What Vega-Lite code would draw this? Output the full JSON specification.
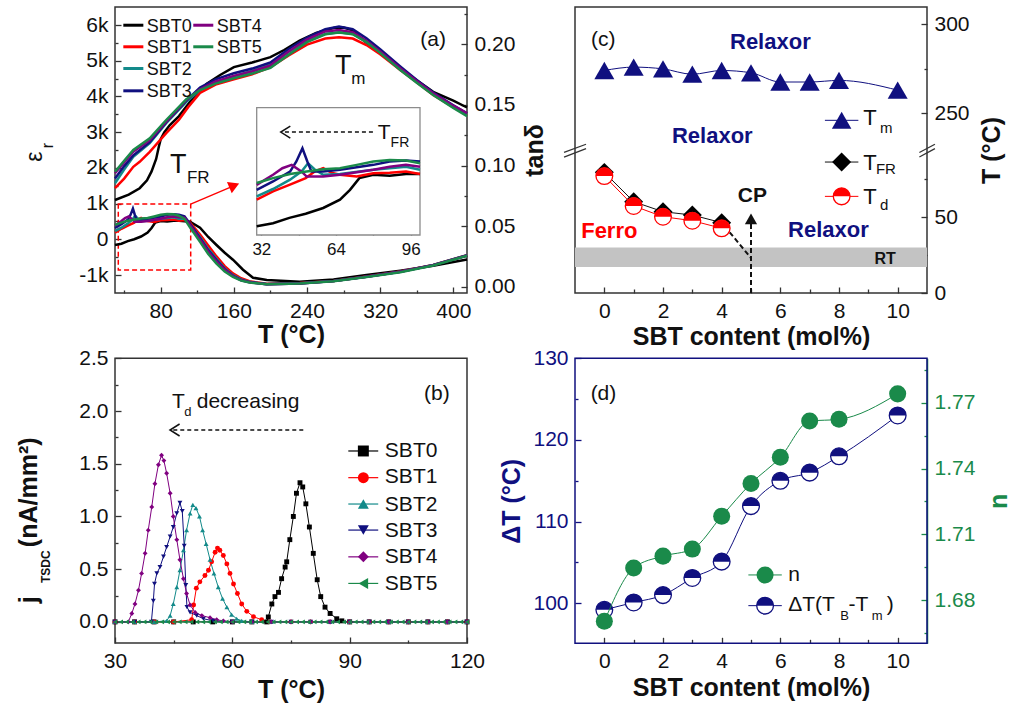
{
"$schema":"https://vega.github.io/schema/vega-lite/v6.json",
"width":1015,"height":714,"autosize":"none","padding":0,"background":"white",
"config":{"font":"Liberation Sans","view":{"stroke":null},
"axis":{"domain":false,"grid":false,"tickSize":-6,"tickWidth":1.3,"tickColor":"#333333","labelFont":"Liberation Sans","labelFontSize":21,"labelColor":"#111111","labelPadding":13,"labelFlush":false,"labelOverlap":false,"labelBound":false,"titleFont":"Liberation Sans","titleFontSize":25,"titleFontWeight":"bold","titleColor":"#111111"}},
"resolve":{"scale":{"x":"independent","y":"independent"}},
"datasets":{
"epsA":[
{"s":"SBT0","x":30,"y":1100},{"s":"SBT0","x":45,"y":1250},{"s":"SBT0","x":57,"y":1430},{"s":"SBT0","x":65,"y":1650},{"s":"SBT0","x":70,"y":1900},{"s":"SBT0","x":75,"y":2250},{"s":"SBT0","x":78,"y":2600},{"s":"SBT0","x":80,"y":2800},{"s":"SBT0","x":84,"y":3000},{"s":"SBT0","x":90,"y":3200},{"s":"SBT0","x":100,"y":3450},{"s":"SBT0","x":115,"y":3950},{"s":"SBT0","x":130,"y":4350},{"s":"SBT0","x":145,"y":4600},{"s":"SBT0","x":160,"y":4820},{"s":"SBT0","x":180,"y":4950},{"s":"SBT0","x":200,"y":5100},{"s":"SBT0","x":215,"y":5300},{"s":"SBT0","x":232,"y":5560},{"s":"SBT0","x":250,"y":5780},{"s":"SBT0","x":270,"y":5920},{"s":"SBT0","x":280,"y":5930},{"s":"SBT0","x":290,"y":5850},{"s":"SBT0","x":305,"y":5500},{"s":"SBT0","x":320,"y":5220},{"s":"SBT0","x":342,"y":4790},{"s":"SBT0","x":360,"y":4450},{"s":"SBT0","x":378,"y":4130},{"s":"SBT0","x":400,"y":3880},{"s":"SBT0","x":415,"y":3690},
{"s":"SBT1","x":30,"y":1430},{"s":"SBT1","x":40,"y":1700},{"s":"SBT1","x":50,"y":2030},{"s":"SBT1","x":57,"y":2170},{"s":"SBT1","x":68,"y":2450},{"s":"SBT1","x":86,"y":2970},{"s":"SBT1","x":100,"y":3350},{"s":"SBT1","x":110,"y":3700},{"s":"SBT1","x":123,"y":4100},{"s":"SBT1","x":140,"y":4330},{"s":"SBT1","x":160,"y":4480},{"s":"SBT1","x":180,"y":4620},{"s":"SBT1","x":200,"y":4820},{"s":"SBT1","x":220,"y":5150},{"s":"SBT1","x":240,"y":5450},{"s":"SBT1","x":260,"y":5620},{"s":"SBT1","x":275,"y":5660},{"s":"SBT1","x":290,"y":5620},{"s":"SBT1","x":305,"y":5440},{"s":"SBT1","x":320,"y":5180},{"s":"SBT1","x":342,"y":4740},{"s":"SBT1","x":360,"y":4400},{"s":"SBT1","x":378,"y":4040},{"s":"SBT1","x":400,"y":3700},{"s":"SBT1","x":415,"y":3480},
{"s":"SBT2","x":30,"y":1570},{"s":"SBT2","x":40,"y":1950},{"s":"SBT2","x":50,"y":2310},{"s":"SBT2","x":68,"y":2690},{"s":"SBT2","x":86,"y":3250},{"s":"SBT2","x":108,"y":3850},{"s":"SBT2","x":123,"y":4180},{"s":"SBT2","x":140,"y":4400},{"s":"SBT2","x":160,"y":4570},{"s":"SBT2","x":180,"y":4720},{"s":"SBT2","x":200,"y":4900},{"s":"SBT2","x":220,"y":5250},{"s":"SBT2","x":240,"y":5550},{"s":"SBT2","x":260,"y":5750},{"s":"SBT2","x":275,"y":5800},{"s":"SBT2","x":290,"y":5750},{"s":"SBT2","x":305,"y":5530},{"s":"SBT2","x":320,"y":5250},{"s":"SBT2","x":342,"y":4790},{"s":"SBT2","x":360,"y":4430},{"s":"SBT2","x":378,"y":4090},{"s":"SBT2","x":400,"y":3730},{"s":"SBT2","x":415,"y":3500},
{"s":"SBT3","x":30,"y":1700},{"s":"SBT3","x":40,"y":2050},{"s":"SBT3","x":50,"y":2350},{"s":"SBT3","x":68,"y":2720},{"s":"SBT3","x":86,"y":3280},{"s":"SBT3","x":108,"y":3880},{"s":"SBT3","x":123,"y":4250},{"s":"SBT3","x":140,"y":4480},{"s":"SBT3","x":160,"y":4650},{"s":"SBT3","x":180,"y":4780},{"s":"SBT3","x":200,"y":4950},{"s":"SBT3","x":220,"y":5330},{"s":"SBT3","x":240,"y":5650},{"s":"SBT3","x":260,"y":5880},{"s":"SBT3","x":275,"y":5960},{"s":"SBT3","x":290,"y":5880},{"s":"SBT3","x":305,"y":5630},{"s":"SBT3","x":320,"y":5320},{"s":"SBT3","x":342,"y":4840},{"s":"SBT3","x":360,"y":4460},{"s":"SBT3","x":378,"y":4110},{"s":"SBT3","x":400,"y":3750},{"s":"SBT3","x":415,"y":3530},
{"s":"SBT4","x":30,"y":1850},{"s":"SBT4","x":40,"y":2150},{"s":"SBT4","x":50,"y":2450},{"s":"SBT4","x":68,"y":2780},{"s":"SBT4","x":86,"y":3290},{"s":"SBT4","x":108,"y":3900},{"s":"SBT4","x":123,"y":4200},{"s":"SBT4","x":140,"y":4420},{"s":"SBT4","x":160,"y":4570},{"s":"SBT4","x":180,"y":4700},{"s":"SBT4","x":200,"y":4870},{"s":"SBT4","x":220,"y":5260},{"s":"SBT4","x":240,"y":5600},{"s":"SBT4","x":260,"y":5820},{"s":"SBT4","x":275,"y":5860},{"s":"SBT4","x":290,"y":5800},{"s":"SBT4","x":305,"y":5560},{"s":"SBT4","x":320,"y":5260},{"s":"SBT4","x":342,"y":4790},{"s":"SBT4","x":360,"y":4430},{"s":"SBT4","x":378,"y":4090},{"s":"SBT4","x":400,"y":3740},{"s":"SBT4","x":415,"y":3530},
{"s":"SBT5","x":30,"y":1890},{"s":"SBT5","x":40,"y":2200},{"s":"SBT5","x":50,"y":2500},{"s":"SBT5","x":68,"y":2830},{"s":"SBT5","x":86,"y":3340},{"s":"SBT5","x":108,"y":3920},{"s":"SBT5","x":123,"y":4180},{"s":"SBT5","x":140,"y":4360},{"s":"SBT5","x":160,"y":4510},{"s":"SBT5","x":180,"y":4640},{"s":"SBT5","x":200,"y":4800},{"s":"SBT5","x":220,"y":5170},{"s":"SBT5","x":240,"y":5520},{"s":"SBT5","x":260,"y":5740},{"s":"SBT5","x":275,"y":5790},{"s":"SBT5","x":290,"y":5740},{"s":"SBT5","x":305,"y":5520},{"s":"SBT5","x":320,"y":5220},{"s":"SBT5","x":342,"y":4740},{"s":"SBT5","x":360,"y":4380},{"s":"SBT5","x":378,"y":4040},{"s":"SBT5","x":400,"y":3680},{"s":"SBT5","x":415,"y":3450}
],
"tanA":[
{"s":"SBT0","x":30,"y":0.0344},{"s":"SBT0","x":37,"y":0.0355},{"s":"SBT0","x":44,"y":0.0376},{"s":"SBT0","x":51,"y":0.0392},{"s":"SBT0","x":58.5,"y":0.0414},{"s":"SBT0","x":65.7,"y":0.0446},{"s":"SBT0","x":70,"y":0.0484},{"s":"SBT0","x":74,"y":0.0529},{"s":"SBT0","x":80,"y":0.0542},{"s":"SBT0","x":87,"y":0.0538},{"s":"SBT0","x":94,"y":0.0545},{"s":"SBT0","x":100,"y":0.0545},{"s":"SBT0","x":112,"y":0.0536},{"s":"SBT0","x":123,"y":0.0487},{"s":"SBT0","x":132,"y":0.041},{"s":"SBT0","x":141,"y":0.0344},{"s":"SBT0","x":150,"y":0.028},{"s":"SBT0","x":159,"y":0.0223},{"s":"SBT0","x":170,"y":0.014},{"s":"SBT0","x":181,"y":0.0074},{"s":"SBT0","x":196,"y":0.0055},{"s":"SBT0","x":232,"y":0.0041},{"s":"SBT0","x":269,"y":0.006},{"s":"SBT0","x":305,"y":0.0096},{"s":"SBT0","x":342,"y":0.0132},{"s":"SBT0","x":378,"y":0.0173},{"s":"SBT0","x":415,"y":0.0225},
{"s":"SBT1","x":30,"y":0.0446},{"s":"SBT1","x":37,"y":0.0478},{"s":"SBT1","x":44,"y":0.0503},{"s":"SBT1","x":51,"y":0.0529},{"s":"SBT1","x":55,"y":0.0555},{"s":"SBT1","x":58.5,"y":0.0567},{"s":"SBT1","x":62,"y":0.055},{"s":"SBT1","x":65.7,"y":0.0542},{"s":"SBT1","x":72.9,"y":0.0535},{"s":"SBT1","x":80,"y":0.0548},{"s":"SBT1","x":87,"y":0.055},{"s":"SBT1","x":94,"y":0.0554},{"s":"SBT1","x":100,"y":0.0545},{"s":"SBT1","x":106,"y":0.055},{"s":"SBT1","x":112,"y":0.053},{"s":"SBT1","x":123,"y":0.043},{"s":"SBT1","x":132,"y":0.034},{"s":"SBT1","x":141,"y":0.025},{"s":"SBT1","x":150,"y":0.017},{"s":"SBT1","x":159,"y":0.011},{"s":"SBT1","x":168,"y":0.007},{"s":"SBT1","x":177,"y":0.0045},{"s":"SBT1","x":196,"y":0.0024},{"s":"SBT1","x":232,"y":0.003},{"s":"SBT1","x":269,"y":0.0048},{"s":"SBT1","x":305,"y":0.0084},{"s":"SBT1","x":342,"y":0.0125},{"s":"SBT1","x":378,"y":0.018},{"s":"SBT1","x":415,"y":0.026},
{"s":"SBT2","x":30,"y":0.0459},{"s":"SBT2","x":37,"y":0.0487},{"s":"SBT2","x":44.3,"y":0.0523},{"s":"SBT2","x":49.3,"y":0.0555},{"s":"SBT2","x":52,"y":0.0586},{"s":"SBT2","x":55,"y":0.0561},{"s":"SBT2","x":58.5,"y":0.0542},{"s":"SBT2","x":65.7,"y":0.0545},{"s":"SBT2","x":80,"y":0.0561},{"s":"SBT2","x":87,"y":0.0567},{"s":"SBT2","x":94,"y":0.0573},{"s":"SBT2","x":100,"y":0.0561},{"s":"SBT2","x":106,"y":0.056},{"s":"SBT2","x":112,"y":0.0515},{"s":"SBT2","x":123,"y":0.041},{"s":"SBT2","x":132,"y":0.031},{"s":"SBT2","x":141,"y":0.023},{"s":"SBT2","x":150,"y":0.015},{"s":"SBT2","x":159,"y":0.0095},{"s":"SBT2","x":168,"y":0.006},{"s":"SBT2","x":177,"y":0.004},{"s":"SBT2","x":196,"y":0.0022},{"s":"SBT2","x":232,"y":0.0028},{"s":"SBT2","x":269,"y":0.0047},{"s":"SBT2","x":305,"y":0.0083},{"s":"SBT2","x":342,"y":0.0124},{"s":"SBT2","x":378,"y":0.0179},{"s":"SBT2","x":415,"y":0.026},
{"s":"SBT3","x":30,"y":0.0484},{"s":"SBT3","x":37,"y":0.0516},{"s":"SBT3","x":44.3,"y":0.0554},{"s":"SBT3","x":47,"y":0.0593},{"s":"SBT3","x":49.6,"y":0.0644},{"s":"SBT3","x":51.7,"y":0.0593},{"s":"SBT3","x":53.5,"y":0.0554},{"s":"SBT3","x":58.5,"y":0.0554},{"s":"SBT3","x":65.7,"y":0.0561},{"s":"SBT3","x":80,"y":0.058},{"s":"SBT3","x":87,"y":0.0593},{"s":"SBT3","x":94,"y":0.0597},{"s":"SBT3","x":100,"y":0.0593},{"s":"SBT3","x":106,"y":0.058},{"s":"SBT3","x":112,"y":0.052},{"s":"SBT3","x":123,"y":0.04},{"s":"SBT3","x":132,"y":0.03},{"s":"SBT3","x":141,"y":0.022},{"s":"SBT3","x":150,"y":0.0145},{"s":"SBT3","x":159,"y":0.009},{"s":"SBT3","x":168,"y":0.0055},{"s":"SBT3","x":177,"y":0.0038},{"s":"SBT3","x":196,"y":0.0021},{"s":"SBT3","x":232,"y":0.0027},{"s":"SBT3","x":269,"y":0.0046},{"s":"SBT3","x":305,"y":0.0082},{"s":"SBT3","x":342,"y":0.0123},{"s":"SBT3","x":378,"y":0.0178},{"s":"SBT3","x":415,"y":0.0258},
{"s":"SBT4","x":30,"y":0.0503},{"s":"SBT4","x":37,"y":0.0542},{"s":"SBT4","x":41,"y":0.0567},{"s":"SBT4","x":45,"y":0.058},{"s":"SBT4","x":49.3,"y":0.0554},{"s":"SBT4","x":51.4,"y":0.0535},{"s":"SBT4","x":58.5,"y":0.0535},{"s":"SBT4","x":65.7,"y":0.0542},{"s":"SBT4","x":80,"y":0.0561},{"s":"SBT4","x":87,"y":0.0573},{"s":"SBT4","x":94,"y":0.058},{"s":"SBT4","x":100,"y":0.0573},{"s":"SBT4","x":106,"y":0.057},{"s":"SBT4","x":112,"y":0.051},{"s":"SBT4","x":123,"y":0.039},{"s":"SBT4","x":132,"y":0.029},{"s":"SBT4","x":141,"y":0.021},{"s":"SBT4","x":150,"y":0.014},{"s":"SBT4","x":159,"y":0.0088},{"s":"SBT4","x":168,"y":0.0053},{"s":"SBT4","x":177,"y":0.0037},{"s":"SBT4","x":196,"y":0.002},{"s":"SBT4","x":232,"y":0.0027},{"s":"SBT4","x":269,"y":0.0046},{"s":"SBT4","x":305,"y":0.0082},{"s":"SBT4","x":342,"y":0.0123},{"s":"SBT4","x":378,"y":0.0178},{"s":"SBT4","x":415,"y":0.0257},
{"s":"SBT5","x":30,"y":0.051},{"s":"SBT5","x":37,"y":0.0529},{"s":"SBT5","x":44.3,"y":0.0545},{"s":"SBT5","x":51.4,"y":0.0554},{"s":"SBT5","x":58.5,"y":0.0563},{"s":"SBT5","x":65.7,"y":0.0567},{"s":"SBT5","x":72.9,"y":0.058},{"s":"SBT5","x":80,"y":0.0593},{"s":"SBT5","x":87,"y":0.0599},{"s":"SBT5","x":94,"y":0.0597},{"s":"SBT5","x":100,"y":0.0586},{"s":"SBT5","x":106,"y":0.056},{"s":"SBT5","x":112,"y":0.049},{"s":"SBT5","x":123,"y":0.037},{"s":"SBT5","x":132,"y":0.027},{"s":"SBT5","x":141,"y":0.019},{"s":"SBT5","x":150,"y":0.0125},{"s":"SBT5","x":159,"y":0.008},{"s":"SBT5","x":168,"y":0.005},{"s":"SBT5","x":177,"y":0.0035},{"s":"SBT5","x":196,"y":0.002},{"s":"SBT5","x":232,"y":0.0026},{"s":"SBT5","x":269,"y":0.0045},{"s":"SBT5","x":305,"y":0.008},{"s":"SBT5","x":342,"y":0.012},{"s":"SBT5","x":378,"y":0.0175},{"s":"SBT5","x":415,"y":0.0255}
],
"annA":[
{"g":"box","x":33.6,"x2":112.8,"y":-860,"y2":987},
{"g":"arrow","x":112.8,"x2":160.4,"y":987,"y2":1505},
{"g":"head","x":160.4,"y":1505},
{"g":"lab","x":378,"y":5412,"t":"(a)"},
{"g":"big","x":279.7,"y":4628,"t":"T"},
{"g":"big","x":99.2,"y":1847,"t":"T"},
{"g":"sub","x":296.1,"y":4348,"t":"m"},
{"g":"sub","x":121.1,"y":1567,"t":"FR"},
{"g":"eps","x":-57.5,"y":2312,"t":"ε"},
{"g":"epsr","x":-43.0,"y":2626,"t":"r"}
],
"legA":[
{"s":"SBT0","g":"l","x":39.1,"x2":61.0,"y":5994},{"s":"SBT1","g":"l","x":39.1,"x2":61.0,"y":5390},{"s":"SBT2","g":"l","x":39.1,"x2":61.0,"y":4782},{"s":"SBT3","g":"l","x":39.1,"x2":61.0,"y":4157},{"s":"SBT4","g":"l","x":115.6,"x2":137.5,"y":5994},{"s":"SBT5","g":"l","x":115.6,"x2":137.5,"y":5390},
{"s":"SBT0","g":"t","x":64.7,"y":5812},{"s":"SBT1","g":"t","x":64.7,"y":5208},{"s":"SBT2","g":"t","x":64.7,"y":4600},{"s":"SBT3","g":"t","x":64.7,"y":3975},{"s":"SBT4","g":"t","x":141.2,"y":5812},{"s":"SBT5","g":"t","x":141.2,"y":5208}
],
"annI":[
{"g":"dash","x":42.1,"x2":80.7,"y":0.0706},
{"g":"chev","x":40.3,"y":0.0706},
{"g":"T","x":84.6,"y":0.0681,"t":"T"},
{"g":"sub","x":91.4,"y":0.0649,"t":"FR"}
],
"tsdc":[
{"s":"SBT0","x":30,"y":0},{"s":"SBT0","x":35,"y":0},{"s":"SBT0","x":40,"y":0},{"s":"SBT0","x":45,"y":0},{"s":"SBT0","x":50,"y":0},{"s":"SBT0","x":55,"y":0},{"s":"SBT0","x":60,"y":0},{"s":"SBT0","x":65,"y":0},{"s":"SBT0","x":68.8,"y":0},{"s":"SBT0","x":69.2,"y":0.047},{"s":"SBT0","x":70.1,"y":0.17},{"s":"SBT0","x":70.9,"y":0.24},{"s":"SBT0","x":71.8,"y":0.28},{"s":"SBT0","x":72.6,"y":0.41},{"s":"SBT0","x":73.5,"y":0.52},{"s":"SBT0","x":73.9,"y":0.57},{"s":"SBT0","x":74.7,"y":0.78},{"s":"SBT0","x":75.6,"y":1.0},{"s":"SBT0","x":76.4,"y":1.22},{"s":"SBT0","x":77.3,"y":1.32},{"s":"SBT0","x":78.0,"y":1.28},{"s":"SBT0","x":78.8,"y":1.12},{"s":"SBT0","x":79.7,"y":0.9},{"s":"SBT0","x":80.7,"y":0.65},{"s":"SBT0","x":81.7,"y":0.4},{"s":"SBT0","x":82.6,"y":0.24},{"s":"SBT0","x":83.7,"y":0.14},{"s":"SBT0","x":85.0,"y":0.08},{"s":"SBT0","x":86.7,"y":0.03},{"s":"SBT0","x":88,"y":0.01},{"s":"SBT0","x":90,"y":0},{"s":"SBT0","x":95,"y":0},{"s":"SBT0","x":100,"y":0},{"s":"SBT0","x":105,"y":0},{"s":"SBT0","x":110,"y":0},{"s":"SBT0","x":115,"y":0},{"s":"SBT0","x":120,"y":0},
{"s":"SBT1","x":30,"y":0},{"s":"SBT1","x":35,"y":0},{"s":"SBT1","x":40,"y":0},{"s":"SBT1","x":45,"y":0},{"s":"SBT1","x":49.6,"y":0.02},{"s":"SBT1","x":50.1,"y":0.16},{"s":"SBT1","x":50.8,"y":0.32},{"s":"SBT1","x":51.7,"y":0.38},{"s":"SBT1","x":53.0,"y":0.44},{"s":"SBT1","x":53.9,"y":0.49},{"s":"SBT1","x":54.7,"y":0.57},{"s":"SBT1","x":55.6,"y":0.66},{"s":"SBT1","x":56.2,"y":0.7},{"s":"SBT1","x":56.8,"y":0.68},{"s":"SBT1","x":57.7,"y":0.63},{"s":"SBT1","x":58.6,"y":0.55},{"s":"SBT1","x":59.4,"y":0.46},{"s":"SBT1","x":60.3,"y":0.36},{"s":"SBT1","x":61.3,"y":0.27},{"s":"SBT1","x":62.4,"y":0.17},{"s":"SBT1","x":63.7,"y":0.1},{"s":"SBT1","x":65.4,"y":0.05},{"s":"SBT1","x":67.5,"y":0.02},{"s":"SBT1","x":69.6,"y":0},{"s":"SBT1","x":75,"y":0},{"s":"SBT1","x":80,"y":0},{"s":"SBT1","x":85,"y":0},{"s":"SBT1","x":90,"y":0},{"s":"SBT1","x":95,"y":0},{"s":"SBT1","x":100,"y":0},{"s":"SBT1","x":105,"y":0},{"s":"SBT1","x":110,"y":0},{"s":"SBT1","x":115,"y":0},{"s":"SBT1","x":120,"y":0},
{"s":"SBT2","x":30,"y":0},{"s":"SBT2","x":35,"y":0},{"s":"SBT2","x":40,"y":0},{"s":"SBT2","x":43.2,"y":0.01},{"s":"SBT2","x":44.1,"y":0.06},{"s":"SBT2","x":44.9,"y":0.17},{"s":"SBT2","x":45.8,"y":0.33},{"s":"SBT2","x":46.6,"y":0.49},{"s":"SBT2","x":47.5,"y":0.68},{"s":"SBT2","x":48.3,"y":0.87},{"s":"SBT2","x":49.2,"y":1.03},{"s":"SBT2","x":49.9,"y":1.11},{"s":"SBT2","x":50.7,"y":1.08},{"s":"SBT2","x":51.6,"y":1.0},{"s":"SBT2","x":52.4,"y":0.87},{"s":"SBT2","x":53.3,"y":0.74},{"s":"SBT2","x":54.3,"y":0.59},{"s":"SBT2","x":55.3,"y":0.46},{"s":"SBT2","x":56.4,"y":0.33},{"s":"SBT2","x":57.5,"y":0.22},{"s":"SBT2","x":58.6,"y":0.14},{"s":"SBT2","x":59.8,"y":0.07},{"s":"SBT2","x":61.1,"y":0.03},{"s":"SBT2","x":62.4,"y":0.01},{"s":"SBT2","x":65,"y":0},{"s":"SBT2","x":70,"y":0},{"s":"SBT2","x":75,"y":0},{"s":"SBT2","x":80,"y":0},{"s":"SBT2","x":85,"y":0},{"s":"SBT2","x":90,"y":0},{"s":"SBT2","x":95,"y":0},{"s":"SBT2","x":100,"y":0},{"s":"SBT2","x":105,"y":0},{"s":"SBT2","x":110,"y":0},{"s":"SBT2","x":115,"y":0},{"s":"SBT2","x":120,"y":0},
{"s":"SBT3","x":30,"y":0},{"s":"SBT3","x":35,"y":0},{"s":"SBT3","x":39.3,"y":0},{"s":"SBT3","x":39.8,"y":0.2},{"s":"SBT3","x":40.1,"y":0.36},{"s":"SBT3","x":40.7,"y":0.46},{"s":"SBT3","x":41.5,"y":0.52},{"s":"SBT3","x":42.4,"y":0.62},{"s":"SBT3","x":43.2,"y":0.71},{"s":"SBT3","x":44.1,"y":0.81},{"s":"SBT3","x":44.9,"y":0.9},{"s":"SBT3","x":45.8,"y":1.03},{"s":"SBT3","x":46.6,"y":1.13},{"s":"SBT3","x":47.2,"y":1.05},{"s":"SBT3","x":47.7,"y":0.72},{"s":"SBT3","x":48.1,"y":0.35},{"s":"SBT3","x":48.4,"y":0.14},{"s":"SBT3","x":49.2,"y":0.09},{"s":"SBT3","x":50.9,"y":0.06},{"s":"SBT3","x":52.6,"y":0.03},{"s":"SBT3","x":55.1,"y":0.01},{"s":"SBT3","x":60,"y":0},{"s":"SBT3","x":65,"y":0},{"s":"SBT3","x":70,"y":0},{"s":"SBT3","x":75,"y":0},{"s":"SBT3","x":80,"y":0},{"s":"SBT3","x":85,"y":0},{"s":"SBT3","x":90,"y":0},{"s":"SBT3","x":95,"y":0},{"s":"SBT3","x":100,"y":0},{"s":"SBT3","x":105,"y":0},{"s":"SBT3","x":110,"y":0},{"s":"SBT3","x":115,"y":0},{"s":"SBT3","x":120,"y":0},
{"s":"SBT4","x":30,"y":0},{"s":"SBT4","x":33.4,"y":0},{"s":"SBT4","x":34.3,"y":0.08},{"s":"SBT4","x":35.1,"y":0.17},{"s":"SBT4","x":36.0,"y":0.3},{"s":"SBT4","x":36.8,"y":0.46},{"s":"SBT4","x":37.7,"y":0.65},{"s":"SBT4","x":38.5,"y":0.87},{"s":"SBT4","x":39.4,"y":1.09},{"s":"SBT4","x":40.2,"y":1.31},{"s":"SBT4","x":41.1,"y":1.49},{"s":"SBT4","x":41.9,"y":1.58},{"s":"SBT4","x":42.5,"y":1.53},{"s":"SBT4","x":43.2,"y":1.41},{"s":"SBT4","x":44.1,"y":1.22},{"s":"SBT4","x":44.9,"y":1.0},{"s":"SBT4","x":45.8,"y":0.78},{"s":"SBT4","x":46.6,"y":0.59},{"s":"SBT4","x":47.5,"y":0.41},{"s":"SBT4","x":48.3,"y":0.27},{"s":"SBT4","x":49.2,"y":0.16},{"s":"SBT4","x":50.5,"y":0.09},{"s":"SBT4","x":52.2,"y":0.06},{"s":"SBT4","x":54.3,"y":0.04},{"s":"SBT4","x":56,"y":0.02},{"s":"SBT4","x":57.7,"y":0.01},{"s":"SBT4","x":60,"y":0},{"s":"SBT4","x":65,"y":0},{"s":"SBT4","x":70,"y":0},{"s":"SBT4","x":75,"y":0},{"s":"SBT4","x":80,"y":0},{"s":"SBT4","x":85,"y":0},{"s":"SBT4","x":90,"y":0},{"s":"SBT4","x":95,"y":0},{"s":"SBT4","x":100,"y":0},{"s":"SBT4","x":105,"y":0},{"s":"SBT4","x":110,"y":0},{"s":"SBT4","x":115,"y":0},{"s":"SBT4","x":120,"y":0},
{"s":"SBT5","x":30,"y":0},{"s":"SBT5","x":31.5,"y":0},{"s":"SBT5","x":33,"y":0},{"s":"SBT5","x":34.5,"y":0},{"s":"SBT5","x":36,"y":0},{"s":"SBT5","x":37.5,"y":0},{"s":"SBT5","x":39,"y":0},{"s":"SBT5","x":40.5,"y":0},{"s":"SBT5","x":42,"y":0},{"s":"SBT5","x":43.5,"y":0},{"s":"SBT5","x":45,"y":0},{"s":"SBT5","x":46.5,"y":0},{"s":"SBT5","x":48,"y":0},{"s":"SBT5","x":49.5,"y":0},{"s":"SBT5","x":51,"y":0},{"s":"SBT5","x":52.5,"y":0},{"s":"SBT5","x":54,"y":0},{"s":"SBT5","x":55.5,"y":0},{"s":"SBT5","x":57,"y":0},{"s":"SBT5","x":58.5,"y":0},{"s":"SBT5","x":60,"y":0},{"s":"SBT5","x":61.5,"y":0},{"s":"SBT5","x":63,"y":0},{"s":"SBT5","x":64.5,"y":0},{"s":"SBT5","x":66,"y":0},{"s":"SBT5","x":67.5,"y":0},{"s":"SBT5","x":69,"y":0},{"s":"SBT5","x":70.5,"y":0},{"s":"SBT5","x":72,"y":0},{"s":"SBT5","x":73.5,"y":0},{"s":"SBT5","x":75,"y":0},{"s":"SBT5","x":76.5,"y":0},{"s":"SBT5","x":78,"y":0},{"s":"SBT5","x":79.5,"y":0},{"s":"SBT5","x":81,"y":0},{"s":"SBT5","x":82.5,"y":0},{"s":"SBT5","x":84,"y":0},{"s":"SBT5","x":85.5,"y":0},{"s":"SBT5","x":87,"y":0},{"s":"SBT5","x":88.5,"y":0},{"s":"SBT5","x":90,"y":0},{"s":"SBT5","x":91.5,"y":0},{"s":"SBT5","x":93,"y":0},{"s":"SBT5","x":94.5,"y":0},{"s":"SBT5","x":96,"y":0},{"s":"SBT5","x":97.5,"y":0},{"s":"SBT5","x":99,"y":0},{"s":"SBT5","x":100.5,"y":0},{"s":"SBT5","x":102,"y":0},{"s":"SBT5","x":103.5,"y":0},{"s":"SBT5","x":105,"y":0},{"s":"SBT5","x":106.5,"y":0},{"s":"SBT5","x":108,"y":0},{"s":"SBT5","x":109.5,"y":0},{"s":"SBT5","x":111,"y":0},{"s":"SBT5","x":112.5,"y":0},{"s":"SBT5","x":114,"y":0},{"s":"SBT5","x":115.5,"y":0},{"s":"SBT5","x":117,"y":0},{"s":"SBT5","x":118.5,"y":0},{"s":"SBT5","x":120,"y":0}
],
"annB":[
{"g":"lab","x":112.3,"y":2.105,"t":"(b)"},
{"g":"T","x":46.2,"y":2.027,"t":"T"},
{"g":"sub","x":48.6,"y":1.953,"t":"d"},
{"g":"dec","x":50.9,"y":2.027,"t":"decreasing"},
{"g":"dash","x":44.9,"x2":78.6,"y":1.82},
{"g":"chev","x":44.06,"y":1.82},
{"g":"jt","x":9.98,"y":0.178,"t":"j"},
{"g":"js","x":13.38,"y":0.368,"t":"TSDC"},
{"g":"jt","x":9.98,"y":0.709,"t":"(nA/mm²)"}
],
"legB":[
{"s":"SBT0","x":89.65,"x2":97.3,"xp":93.5,"xt":99.0,"y":1.621,"yt":1.561},
{"s":"SBT1","x":89.65,"x2":97.3,"xp":93.5,"xt":99.0,"y":1.368,"yt":1.314},
{"s":"SBT2","x":89.65,"x2":97.3,"xp":93.5,"xt":99.0,"y":1.118,"yt":1.054},
{"s":"SBT3","x":89.65,"x2":97.3,"xp":93.5,"xt":99.0,"y":0.871,"yt":0.807},
{"s":"SBT4","x":89.65,"x2":97.3,"xp":93.5,"xt":99.0,"y":0.617,"yt":0.555},
{"s":"SBT5","x":89.65,"x2":97.3,"xp":93.5,"xt":99.0,"y":0.365,"yt":0.301}
],
"phase":[
{"k":"Tm","x":0,"y":274.0},{"k":"Tm","x":1,"y":275.9},{"k":"Tm","x":2,"y":274.9},{"k":"Tm","x":3,"y":271.9},{"k":"Tm","x":4,"y":274.0},{"k":"Tm","x":5,"y":272.7},{"k":"Tm","x":6,"y":267.5},{"k":"Tm","x":7,"y":267.5},{"k":"Tm","x":8,"y":268.4},{"k":"Tm","x":10,"y":262.9},
{"k":"TFR","x":0,"y":79.4},{"k":"TFR","x":1,"y":60.1},{"k":"TFR","x":2,"y":53.5},{"k":"TFR","x":3,"y":51.3},{"k":"TFR","x":4,"y":46.3},
{"k":"Td","x":0,"y":77.0},{"k":"Td","x":1,"y":57.3},{"k":"Td","x":2,"y":50.2},{"k":"Td","x":3,"y":47.6},{"k":"Td","x":4,"y":42.6}
],
"annC":[
{"g":"band","x":-1,"x2":11,"y":17.1,"y2":29.9},
{"g":"rt","x":9.57,"y":19.3,"t":"RT"},
{"g":"dash","x":4.1,"y":44,"x2":5,"y2":23},
{"g":"dash","x":5,"y":0,"x2":5,"y2":46},
{"g":"head","x":5,"y":48.8},
{"g":"relax","x":5.66,"y":285.9,"t":"Relaxor"},
{"g":"relax","x":3.68,"y":233.3,"t":"Relaxor"},
{"g":"relax","x":7.64,"y":36.8,"t":"Relaxor"},
{"g":"ferro","x":0.17,"y":36.4,"t":"Ferro"},
{"g":"cp","x":5.05,"y":59.9,"t":"CP"},
{"g":"lab","x":-0.04,"y":287.8,"t":"(c)"},
{"g":"brk","x":-1.374,"x2":-0.624,"y":89.5,"y2":229.9},
{"g":"brk","x":-1.374,"x2":-0.624,"y":92.5,"y2":232.4},
{"g":"brk","x":10.74,"x2":11.27,"y":89.5,"y2":229.9},
{"g":"brk","x":10.74,"x2":11.27,"y":92.5,"y2":232.4},
{"g":"T","x":8.83,"y":243.2,"t":"T"},{"g":"T","x":8.83,"y":80.7,"t":"T"},{"g":"T","x":8.83,"y":58.8,"t":"T"},
{"g":"sub","x":9.40,"y":238.6,"t":"m"},{"g":"sub","x":9.26,"y":78.1,"t":"FR"},{"g":"sub","x":9.40,"y":54.4,"t":"d"}
],
"legC":[
{"k":"Tm","x":7.52,"x2":8.66,"xp":8.09,"y":245.9},
{"k":"TFR","x":7.52,"x2":8.66,"xp":8.09,"y":86.2},
{"k":"Td","x":7.52,"x2":8.66,"xp":8.09,"y":63.6}
],
"dn":[
{"x":0,"y":99.2,"n":1.6704},{"x":1,"y":100.1,"n":1.6947},{"x":2,"y":101.0,"n":1.7001},{"x":3,"y":103.1,"n":1.7033},{"x":4,"y":105.1,"n":1.7183},{"x":5,"y":111.9,"n":1.7332},{"x":6,"y":115.0,"n":1.7451},{"x":7,"y":116.0,"n":1.7616},{"x":8,"y":118.0,"n":1.7624},{"x":10,"y":123.0,"n":1.774}
],
"annD":[
{"g":"lab","x":-0.03,"y":124.88,"t":"(d)"},
{"g":"ln","x":4.91,"x2":6.05,"y":103.47},
{"g":"pn","x":5.48,"y":103.47},
{"g":"lt","x":4.91,"x2":6.05,"y":99.71},
{"g":"pt","x":5.48,"y":99.71},
{"g":"txt","x":6.27,"y":102.77,"t":"n"},
{"g":"txt","x":6.27,"y":99.1,"t":"ΔT(T"},
{"g":"txt","x":8.32,"y":99.1,"t":"-T"},
{"g":"txt","x":9.63,"y":99.1,"t":")"},
{"g":"sub","x":8.04,"y":97.96,"t":"B"},
{"g":"sub","x":9.12,"y":97.96,"t":"m"}
]
},
"layer":[
{"data":{"values":[{}]},"mark":{"type":"rect","filled":false,"stroke":"#333333","strokeWidth":1.5},
"encoding":{
"x":{"datum":30,"type":"quantitative","scale":{"domain":[30,415],"range":[115,467],"nice":false,"zero":false},"axis":{"orient":"bottom","offset":-421,"values":[80,160,240,320,400],"title":"T (°C)","titlePadding":1}},
"x2":{"datum":415},
"y":{"datum":-1504,"type":"quantitative","scale":{"domain":[-1504,6504],"range":[293,7],"nice":false,"zero":false},"axis":{"orient":"left","offset":-115,"values":[-1000,0,1000,2000,3000,4000,5000,6000],"labelExpr":"datum.value === 0 ? '0' : (datum.value/1000) + 'k'","title":null}},
"y2":{"datum":6504}}},
{"data":{"values":[{}]},"mark":{"type":"point","opacity":0},
"encoding":{
"x":{"datum":100,"type":"quantitative","scale":{"domain":[30,415],"range":[115,467],"nice":false,"zero":false},"axis":{"orient":"bottom","offset":-421,"values":[40,120,200,280,360],"labels":false,"tickSize":-3,"title":null}},
"y":{"datum":0,"type":"quantitative","scale":{"domain":[-1504,6504],"range":[293,7],"nice":false,"zero":false},"axis":{"orient":"left","offset":-115,"values":[-500,500,1500,2500,3500,4500,5500],"labels":false,"tickSize":-3,"title":null}}}},
{"data":{"values":[{}]},"mark":{"type":"point","opacity":0},
"encoding":{
"x":{"datum":100,"type":"quantitative","scale":{"domain":[30,415],"range":[115,467],"nice":false,"zero":false},"axis":null},
"y":{"datum":0.1,"type":"quantitative","scale":{"domain":[-0.0052,0.2308],"range":[293,7],"nice":false,"zero":false},"axis":{"orient":"right","offset":-548,"values":[0,0.05,0.1,0.15,0.2],"format":".2f","title":"tanδ","titleAngle":270,"titleBaseline":"top","titlePadding":8}}}},
{"data":{"values":[{}]},"mark":{"type":"point","opacity":0},
"encoding":{
"x":{"datum":100,"type":"quantitative","scale":{"domain":[30,415],"range":[115,467],"nice":false,"zero":false},"axis":null},
"y":{"datum":0.1,"type":"quantitative","scale":{"domain":[-0.0052,0.2308],"range":[293,7],"nice":false,"zero":false},"axis":{"orient":"right","offset":-548,"values":[0.025,0.075,0.125,0.175,0.225],"labels":false,"tickSize":-3,"title":null}}}},
{"encoding":{"x":{"field":"x","type":"quantitative","scale":{"domain":[30,415],"range":[115,467],"nice":false,"zero":false},"axis":null},"y":{"field":"y","type":"quantitative","scale":{"domain":[-1504,6504],"range":[293,7],"nice":false,"zero":false},"axis":null}},
"layer":[
{"data":{"name":"epsA"},"mark":{"type":"line","strokeWidth":2.5},"encoding":{"color":{"field":"s","type":"nominal","scale":{"domain":["SBT0","SBT1","SBT2","SBT3","SBT4","SBT5"],"range":["#000000","#ff0000","#138a8a","#10107f","#800080","#1a8a4a"]},"legend":null}}},
{"data":{"name":"legA"},"transform":[{"filter":"datum.g==='l'"}],"mark":{"type":"rule","strokeWidth":3},"encoding":{"x2":{"field":"x2"},"color":{"field":"s","type":"nominal","legend":null}}},
{"data":{"name":"legA"},"transform":[{"filter":"datum.g==='t'"}],"mark":{"type":"text","fontSize":18,"align":"left","baseline":"alphabetic","color":"#111111"},"encoding":{"text":{"field":"s"}}},
{"data":{"name":"annA"},"transform":[{"filter":"datum.g==='box'"}],"mark":{"type":"rect","filled":false,"stroke":"#ff0000","strokeWidth":1.5,"strokeDash":[5,3]},"encoding":{"x2":{"field":"x2"},"y2":{"field":"y2"}}},
{"data":{"name":"annA"},"transform":[{"filter":"datum.g==='arrow'"}],"mark":{"type":"rule","stroke":"#ff0000","strokeWidth":1.3},"encoding":{"x2":{"field":"x2"},"y2":{"field":"y2"}}},
{"data":{"name":"annA"},"transform":[{"filter":"datum.g==='head'"}],"mark":{"type":"point","shape":"triangle-up","filled":true,"color":"#ff0000","size":150,"angle":67,"opacity":1}},
{"data":{"name":"annA"},"transform":[{"filter":"datum.g==='lab'"}],"mark":{"type":"text","fontSize":21,"align":"center","baseline":"alphabetic","color":"#111111"},"encoding":{"text":{"field":"t"}}},
{"data":{"name":"annA"},"transform":[{"filter":"datum.g==='big'"}],"mark":{"type":"text","fontSize":27,"align":"center","baseline":"alphabetic","color":"#111111"},"encoding":{"text":{"field":"t"}}},
{"data":{"name":"annA"},"transform":[{"filter":"datum.g==='sub'"}],"mark":{"type":"text","fontSize":17,"align":"center","baseline":"alphabetic","color":"#111111"},"encoding":{"text":{"field":"t"}}},
{"data":{"name":"annA"},"transform":[{"filter":"datum.g==='eps'"}],"mark":{"type":"text","fontSize":23,"align":"center","baseline":"middle","angle":270,"color":"#111111"},"encoding":{"text":{"field":"t"}}},
{"data":{"name":"annA"},"transform":[{"filter":"datum.g==='epsr'"}],"mark":{"type":"text","fontSize":16,"align":"center","baseline":"middle","angle":270,"color":"#111111"},"encoding":{"text":{"field":"t"}}}
]},
{"data":{"name":"tanA"},"mark":{"type":"line","strokeWidth":2.5},"encoding":{"x":{"field":"x","type":"quantitative","scale":{"domain":[30,415],"range":[115,467],"nice":false,"zero":false},"axis":null},"y":{"field":"y","type":"quantitative","scale":{"domain":[-0.0052,0.2308],"range":[293,7],"nice":false,"zero":false},"axis":null},"color":{"field":"s","type":"nominal","legend":null}}},
{"data":{"values":[{}]},"mark":{"type":"rect","fill":"white","stroke":"#8c8c8c","strokeWidth":1.3},
"encoding":{
"x":{"datum":30,"type":"quantitative","scale":{"domain":[30,100],"range":[256.7,420],"nice":false,"zero":false},"axis":{"orient":"bottom","offset":-479,"values":[32,48,64,80,96],"labelExpr":"datum.value % 32 === 0 ? datum.label : ''","labelFontSize":17,"tickSize":-4,"labelPadding":10,"title":null}},
"x2":{"datum":100},
"y":{"datum":0.031,"type":"quantitative","scale":{"domain":[0.031,0.08],"range":[235,107.7],"nice":false,"zero":false},"axis":null},
"y2":{"datum":0.08}}},
{"encoding":{"x":{"field":"x","type":"quantitative","scale":{"domain":[30,100],"range":[256.7,420],"nice":false,"zero":false},"axis":null},"y":{"field":"y","type":"quantitative","scale":{"domain":[0.031,0.08],"range":[235,107.7],"nice":false,"zero":false},"axis":null}},
"layer":[
{"data":{"name":"tanA"},"transform":[{"filter":"datum.x <= 100"}],"mark":{"type":"line","strokeWidth":2.5},"encoding":{"color":{"field":"s","type":"nominal","legend":null}}},
{"data":{"name":"annI"},"transform":[{"filter":"datum.g==='dash'"}],"mark":{"type":"rule","stroke":"#111111","strokeWidth":1.5,"strokeDash":[4,3]},"encoding":{"x2":{"field":"x2"}}},
{"data":{"name":"annI"},"transform":[{"filter":"datum.g==='chev'"}],"mark":{"type":"point","shape":"M1.6,-1L0,0L1.6,1","filled":false,"stroke":"#111111","strokeWidth":1.5,"size":144,"opacity":1}},
{"data":{"name":"annI"},"transform":[{"filter":"datum.g==='T'"}],"mark":{"type":"text","fontSize":21,"align":"center","baseline":"alphabetic","color":"#111111"},"encoding":{"text":{"field":"t"}}},
{"data":{"name":"annI"},"transform":[{"filter":"datum.g==='sub'"}],"mark":{"type":"text","fontSize":14,"align":"center","baseline":"alphabetic","color":"#111111"},"encoding":{"text":{"field":"t"}}}
]},
{"data":{"values":[{}]},"mark":{"type":"rect","filled":false,"stroke":"#333333","strokeWidth":1.5},
"encoding":{
"x":{"datum":30,"type":"quantitative","scale":{"domain":[30,120],"range":[115,467],"nice":false,"zero":false},"axis":{"orient":"bottom","offset":-71,"values":[30,60,90,120],"title":"T (°C)","titlePadding":6}},
"x2":{"datum":120},
"y":{"datum":-0.2,"type":"quantitative","scale":{"domain":[-0.2,2.5],"range":[643,358.3],"nice":false,"zero":false},"axis":{"orient":"left","offset":-115,"values":[0,0.5,1,1.5,2,2.5],"format":".1f","title":null}},
"y2":{"datum":2.5}}},
{"data":{"values":[{}]},"mark":{"type":"point","opacity":0},
"encoding":{
"x":{"datum":50,"type":"quantitative","scale":{"domain":[30,120],"range":[115,467],"nice":false,"zero":false},"axis":{"orient":"bottom","offset":-71,"values":[45,75,105],"labels":false,"tickSize":-3,"title":null}},
"y":{"datum":1,"type":"quantitative","scale":{"domain":[-0.2,2.5],"range":[643,358.3],"nice":false,"zero":false},"axis":{"orient":"left","offset":-115,"values":[0.25,0.75,1.25,1.75,2.25],"labels":false,"tickSize":-3,"title":null}}}},
{"encoding":{"x":{"field":"x","type":"quantitative","scale":{"domain":[30,120],"range":[115,467],"nice":false,"zero":false},"axis":null},"y":{"field":"y","type":"quantitative","scale":{"domain":[-0.2,2.5],"range":[643,358.3],"nice":false,"zero":false},"axis":null}},
"layer":[
{"data":{"name":"tsdc"},"mark":{"type":"line","strokeWidth":1},"encoding":{"color":{"field":"s","type":"nominal","legend":null}}},
{"data":{"name":"tsdc"},"mark":{"type":"point","filled":true,"size":24,"opacity":1},"encoding":{"color":{"field":"s","type":"nominal","legend":null},"shape":{"field":"s","type":"nominal","scale":{"domain":["SBT0","SBT1","SBT2","SBT3","SBT4","SBT5"],"range":["square","circle","triangle-up","triangle-down","diamond","triangle-left"]},"legend":null}}},
{"data":{"name":"legB"},"mark":{"type":"rule","strokeWidth":1.2},"encoding":{"x2":{"field":"x2"},"color":{"field":"s","type":"nominal","legend":null}}},
{"data":{"name":"legB"},"mark":{"type":"point","filled":true,"size":120,"opacity":1},"encoding":{"x":{"field":"xp","type":"quantitative"},"color":{"field":"s","type":"nominal","legend":null},"shape":{"field":"s","type":"nominal","legend":null}}},
{"data":{"name":"legB"},"mark":{"type":"text","fontSize":21,"align":"left","baseline":"alphabetic","color":"#111111"},"encoding":{"x":{"field":"xt","type":"quantitative"},"y":{"field":"yt","type":"quantitative"},"text":{"field":"s"}}},
{"data":{"name":"annB"},"transform":[{"filter":"datum.g==='lab' || datum.g==='T'"}],"mark":{"type":"text","fontSize":21,"align":"center","baseline":"alphabetic","color":"#111111"},"encoding":{"text":{"field":"t"}}},
{"data":{"name":"annB"},"transform":[{"filter":"datum.g==='sub'"}],"mark":{"type":"text","fontSize":13,"align":"center","baseline":"alphabetic","color":"#111111"},"encoding":{"text":{"field":"t"}}},
{"data":{"name":"annB"},"transform":[{"filter":"datum.g==='dec'"}],"mark":{"type":"text","fontSize":21,"align":"left","baseline":"alphabetic","color":"#111111"},"encoding":{"text":{"field":"t"}}},
{"data":{"name":"annB"},"transform":[{"filter":"datum.g==='dash'"}],"mark":{"type":"rule","stroke":"#111111","strokeWidth":1.5,"strokeDash":[4,3]},"encoding":{"x2":{"field":"x2"}}},
{"data":{"name":"annB"},"transform":[{"filter":"datum.g==='chev'"}],"mark":{"type":"point","shape":"M1.6,-1L0,0L1.6,1","filled":false,"stroke":"#111111","strokeWidth":1.5,"size":144,"opacity":1}},
{"data":{"name":"annB"},"transform":[{"filter":"datum.g==='jt'"}],"mark":{"type":"text","fontSize":25,"fontWeight":"bold","align":"left","baseline":"alphabetic","angle":270,"color":"#111111"},"encoding":{"text":{"field":"t"}}},
{"data":{"name":"annB"},"transform":[{"filter":"datum.g==='js'"}],"mark":{"type":"text","fontSize":12,"fontWeight":"bold","align":"left","baseline":"alphabetic","angle":270,"color":"#111111"},"encoding":{"text":{"field":"t"}}}
]},
{"data":{"values":[{}]},"mark":{"type":"rect","filled":false,"stroke":"#333333","strokeWidth":1.5},
"encoding":{
"x":{"datum":-1,"type":"quantitative","scale":{"domain":[-1,11],"range":[575,927],"nice":false,"zero":false},"axis":{"orient":"bottom","offset":-421,"values":[0,2,4,6,8,10],"title":"SBT content (mol%)","titlePadding":3}},
"x2":{"datum":11},
"y":{"datum":0,"type":"quantitative","scale":{"domain":[0,93,228.2,309.8],"range":[293,151.7,151.7,7],"nice":false,"zero":false},"axis":{"orient":"right","offset":-88,"values":[0,50,250,300],"title":"T (°C)","titleAngle":270,"titleBaseline":"top","titlePadding":10}},
"y2":{"datum":309.8}}},
{"data":{"values":[{}]},"mark":{"type":"point","opacity":0},
"encoding":{
"x":{"datum":5,"type":"quantitative","scale":{"domain":[-1,11],"range":[575,927],"nice":false,"zero":false},"axis":{"orient":"bottom","offset":-421,"values":[1,3,5,7,9],"labels":false,"tickSize":-4,"title":null}},
"y":{"datum":50,"type":"quantitative","scale":{"domain":[0,93,228.2,309.8],"range":[293,151.7,151.7,7],"nice":false,"zero":false},"axis":{"orient":"right","offset":-88,"values":[25,75,275],"labels":false,"tickSize":-3,"title":null}}}},
{"encoding":{"x":{"field":"x","type":"quantitative","scale":{"domain":[-1,11],"range":[575,927],"nice":false,"zero":false},"axis":null},"y":{"field":"y","type":"quantitative","scale":{"domain":[0,93,228.2,309.8],"range":[293,151.7,151.7,7],"nice":false,"zero":false},"axis":null}},
"layer":[
{"data":{"name":"annC"},"transform":[{"filter":"datum.g==='band'"}],"mark":{"type":"rect","fill":"#c3c3c3"},"encoding":{"x2":{"field":"x2"},"y2":{"field":"y2"}}},
{"data":{"name":"annC"},"transform":[{"filter":"datum.g==='rt'"}],"mark":{"type":"text","fontSize":16,"fontWeight":"bold","align":"center","baseline":"alphabetic","color":"#111111"},"encoding":{"text":{"field":"t"}}},
{"data":{"name":"annC"},"transform":[{"filter":"datum.g==='dash'"}],"mark":{"type":"rule","stroke":"#111111","strokeWidth":2,"strokeDash":[5,3]},"encoding":{"x2":{"field":"x2"},"y2":{"field":"y2"}}},
{"data":{"name":"annC"},"transform":[{"filter":"datum.g==='head'"}],"mark":{"type":"point","shape":"triangle-up","filled":true,"color":"#111111","size":150,"opacity":1}},
{"data":{"name":"annC"},"transform":[{"filter":"datum.g==='brk'"}],"mark":{"type":"rule","stroke":"#333333","strokeWidth":1.3},"encoding":{"x2":{"field":"x2"},"y2":{"field":"y2"}}},
{"data":{"name":"phase"},"transform":[{"filter":"datum.k==='Tm'"}],"mark":{"type":"line","stroke":"#10107f","strokeWidth":1,"interpolate":"monotone"}},
{"data":{"name":"phase"},"transform":[{"filter":"datum.k==='Tm'"}],"mark":{"type":"point","shape":"triangle-up","filled":true,"color":"#10107f","size":400,"opacity":1}},
{"data":{"name":"phase"},"transform":[{"filter":"datum.k==='TFR'"}],"mark":{"type":"line","stroke":"#111111","strokeWidth":1}},
{"data":{"name":"phase"},"transform":[{"filter":"datum.k==='TFR'"}],"mark":{"type":"point","shape":"diamond","filled":true,"color":"#000000","size":360,"opacity":1}},
{"data":{"name":"phase"},"transform":[{"filter":"datum.k==='Td'"}],"mark":{"type":"line","stroke":"#ff0000","strokeWidth":1}},
{"data":{"name":"phase"},"transform":[{"filter":"datum.k==='Td'"}],"mark":{"type":"point","shape":"circle","filled":true,"fill":"white","stroke":"#ff0000","strokeWidth":1.3,"size":280,"opacity":1}},
{"data":{"name":"phase"},"transform":[{"filter":"datum.k==='Td'"}],"mark":{"type":"point","shape":"M-1,0A1,1,0,0,1,1,0Z","filled":true,"color":"#ff0000","size":280,"opacity":1}},
{"data":{"name":"legC"},"transform":[{"filter":"datum.k==='Tm'"}],"mark":{"type":"rule","stroke":"#10107f","strokeWidth":1},"encoding":{"x2":{"field":"x2"}}},
{"data":{"name":"legC"},"transform":[{"filter":"datum.k==='TFR'"}],"mark":{"type":"rule","stroke":"#111111","strokeWidth":1},"encoding":{"x2":{"field":"x2"}}},
{"data":{"name":"legC"},"transform":[{"filter":"datum.k==='Td'"}],"mark":{"type":"rule","stroke":"#ff0000","strokeWidth":1},"encoding":{"x2":{"field":"x2"}}},
{"data":{"name":"legC"},"transform":[{"filter":"datum.k==='Tm'"}],"mark":{"type":"point","shape":"triangle-up","filled":true,"color":"#10107f","size":380,"opacity":1},"encoding":{"x":{"field":"xp","type":"quantitative"}}},
{"data":{"name":"legC"},"transform":[{"filter":"datum.k==='TFR'"}],"mark":{"type":"point","shape":"diamond","filled":true,"color":"#000000","size":360,"opacity":1},"encoding":{"x":{"field":"xp","type":"quantitative"}}},
{"data":{"name":"legC"},"transform":[{"filter":"datum.k==='Td'"}],"mark":{"type":"point","shape":"circle","filled":true,"fill":"white","stroke":"#ff0000","strokeWidth":1.3,"size":280,"opacity":1},"encoding":{"x":{"field":"xp","type":"quantitative"}}},
{"data":{"name":"legC"},"transform":[{"filter":"datum.k==='Td'"}],"mark":{"type":"point","shape":"M-1,0A1,1,0,0,1,1,0Z","filled":true,"color":"#ff0000","size":280,"opacity":1},"encoding":{"x":{"field":"xp","type":"quantitative"}}},
{"data":{"name":"annC"},"transform":[{"filter":"datum.g==='relax'"}],"mark":{"type":"text","fontSize":22,"fontWeight":"bold","align":"center","baseline":"alphabetic","color":"#10107f"},"encoding":{"text":{"field":"t"}}},
{"data":{"name":"annC"},"transform":[{"filter":"datum.g==='ferro'"}],"mark":{"type":"text","fontSize":22,"fontWeight":"bold","align":"center","baseline":"alphabetic","color":"#ff0000"},"encoding":{"text":{"field":"t"}}},
{"data":{"name":"annC"},"transform":[{"filter":"datum.g==='cp'"}],"mark":{"type":"text","fontSize":21,"fontWeight":"bold","align":"center","baseline":"alphabetic","color":"#111111"},"encoding":{"text":{"field":"t"}}},
{"data":{"name":"annC"},"transform":[{"filter":"datum.g==='lab'"}],"mark":{"type":"text","fontSize":21,"align":"center","baseline":"alphabetic","color":"#111111"},"encoding":{"text":{"field":"t"}}},
{"data":{"name":"annC"},"transform":[{"filter":"datum.g==='T'"}],"mark":{"type":"text","fontSize":22,"align":"left","baseline":"alphabetic","color":"#111111"},"encoding":{"text":{"field":"t"}}},
{"data":{"name":"annC"},"transform":[{"filter":"datum.g==='sub'"}],"mark":{"type":"text","fontSize":15,"align":"left","baseline":"alphabetic","color":"#111111"},"encoding":{"text":{"field":"t"}}}
]},
{"data":{"values":[{}]},"mark":{"type":"rect","filled":false,"stroke":"#10107f","strokeWidth":1.5},
"encoding":{
"x":{"datum":-1,"type":"quantitative","scale":{"domain":[-1,11],"range":[575,927],"nice":false,"zero":false},"axis":{"orient":"bottom","offset":-70.7,"values":[0,2,4,6,8,10],"title":"SBT content (mol%)","titlePadding":4}},
"x2":{"datum":11},
"y":{"datum":95.1,"type":"quantitative","scale":{"domain":[95.1,130],"range":[643.3,358.3],"nice":false,"zero":false},"axis":{"orient":"left","offset":-575,"values":[100,110,120,130],"labelColor":"#10107f","tickColor":"#10107f","title":"ΔT (°C)","titleColor":"#10107f","titlePadding":8}},
"y2":{"datum":130}}},
{"data":{"values":[{}]},"mark":{"type":"point","opacity":0},
"encoding":{
"x":{"datum":5,"type":"quantitative","scale":{"domain":[-1,11],"range":[575,927],"nice":false,"zero":false},"axis":{"orient":"bottom","offset":-70.7,"values":[1,3,5,7,9],"labels":false,"tickSize":-4,"title":null}},
"y":{"datum":110,"type":"quantitative","scale":{"domain":[95.1,130],"range":[643.3,358.3],"nice":false,"zero":false},"axis":{"orient":"left","offset":-575,"values":[105,115,125],"labels":false,"tickSize":-3,"tickColor":"#10107f","title":null}}}},
{"data":{"values":[{}]},"mark":{"type":"point","opacity":0},
"encoding":{
"x":{"datum":5,"type":"quantitative","scale":{"domain":[-1,11],"range":[575,927],"nice":false,"zero":false},"axis":null},
"y":{"datum":1.7,"type":"quantitative","scale":{"domain":[1.6604,1.7902],"range":[643.3,358.3],"nice":false,"zero":false},"axis":{"orient":"right","offset":-88,"values":[1.68,1.71,1.74,1.77],"format":".2f","labelColor":"#1a8a4a","tickColor":"#1a8a4a","domain":true,"domainColor":"#1a8a4a","domainWidth":1.5,"title":"n","titleColor":"#1a8a4a","titleAngle":270,"titleBaseline":"top","titlePadding":12}}}},
{"data":{"values":[{}]},"mark":{"type":"point","opacity":0},
"encoding":{
"x":{"datum":5,"type":"quantitative","scale":{"domain":[-1,11],"range":[575,927],"nice":false,"zero":false},"axis":null},
"y":{"datum":1.7,"type":"quantitative","scale":{"domain":[1.6604,1.7902],"range":[643.3,358.3],"nice":false,"zero":false},"axis":{"orient":"right","offset":-88,"values":[1.665,1.695,1.725,1.755,1.785],"labels":false,"tickSize":-3,"tickColor":"#1a8a4a","title":null}}}},
{"encoding":{"x":{"field":"x","type":"quantitative","scale":{"domain":[-1,11],"range":[575,927],"nice":false,"zero":false},"axis":null},"y":{"field":"y","type":"quantitative","scale":{"domain":[95.1,130],"range":[643.3,358.3],"nice":false,"zero":false},"axis":null}},
"layer":[
{"data":{"name":"dn"},"mark":{"type":"line","stroke":"#10107f","strokeWidth":1,"interpolate":"monotone"}},
{"data":{"name":"dn"},"mark":{"type":"point","shape":"circle","filled":true,"fill":"white","stroke":"#10107f","strokeWidth":1.3,"size":280,"opacity":1}},
{"data":{"name":"dn"},"mark":{"type":"point","shape":"M-1,0A1,1,0,0,1,1,0Z","filled":true,"color":"#10107f","size":280,"opacity":1}},
{"data":{"name":"annD"},"transform":[{"filter":"datum.g==='ln'"}],"mark":{"type":"rule","stroke":"#1a8a4a","strokeWidth":1},"encoding":{"x2":{"field":"x2"}}},
{"data":{"name":"annD"},"transform":[{"filter":"datum.g==='lt'"}],"mark":{"type":"rule","stroke":"#10107f","strokeWidth":1},"encoding":{"x2":{"field":"x2"}}},
{"data":{"name":"annD"},"transform":[{"filter":"datum.g==='pn'"}],"mark":{"type":"point","shape":"circle","filled":true,"color":"#1a8a4a","size":290,"opacity":1}},
{"data":{"name":"annD"},"transform":[{"filter":"datum.g==='pt'"}],"mark":{"type":"point","shape":"circle","filled":true,"fill":"white","stroke":"#10107f","strokeWidth":1.3,"size":280,"opacity":1}},
{"data":{"name":"annD"},"transform":[{"filter":"datum.g==='pt'"}],"mark":{"type":"point","shape":"M-1,0A1,1,0,0,1,1,0Z","filled":true,"color":"#10107f","size":280,"opacity":1}},
{"data":{"name":"annD"},"transform":[{"filter":"datum.g==='lab'"}],"mark":{"type":"text","fontSize":21,"align":"center","baseline":"alphabetic","color":"#111111"},"encoding":{"text":{"field":"t"}}},
{"data":{"name":"annD"},"transform":[{"filter":"datum.g==='txt'"}],"mark":{"type":"text","fontSize":21,"align":"left","baseline":"alphabetic","color":"#111111"},"encoding":{"text":{"field":"t"}}},
{"data":{"name":"annD"},"transform":[{"filter":"datum.g==='sub'"}],"mark":{"type":"text","fontSize":13,"align":"left","baseline":"alphabetic","color":"#111111"},"encoding":{"text":{"field":"t"}}}
]},
{"data":{"name":"dn"},"encoding":{"x":{"field":"x","type":"quantitative","scale":{"domain":[-1,11],"range":[575,927],"nice":false,"zero":false},"axis":null},"y":{"field":"n","type":"quantitative","scale":{"domain":[1.6604,1.7902],"range":[643.3,358.3],"nice":false,"zero":false},"axis":null}},
"layer":[
{"mark":{"type":"line","stroke":"#1a8a4a","strokeWidth":1,"interpolate":"monotone"}},
{"mark":{"type":"point","shape":"circle","filled":true,"color":"#1a8a4a","size":290,"opacity":1}}
]}
]
}
